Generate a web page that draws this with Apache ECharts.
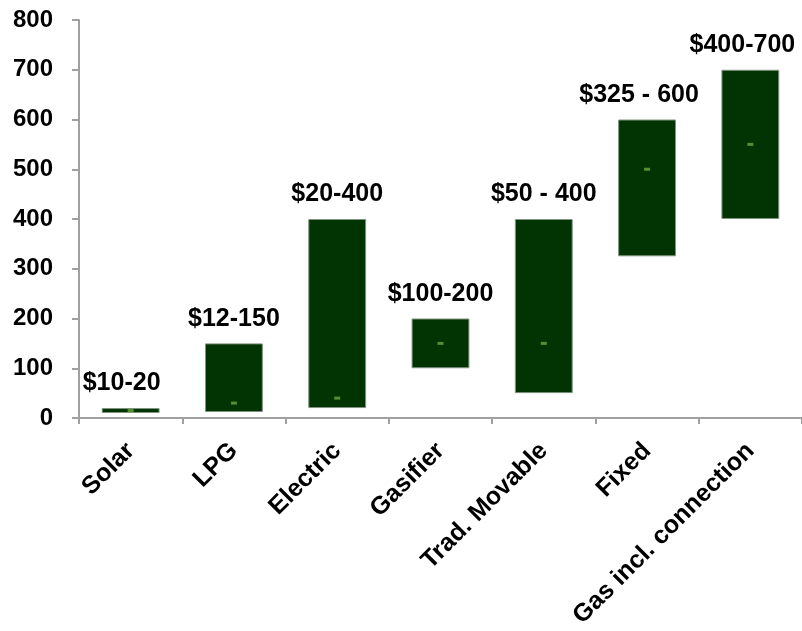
<!DOCTYPE html>
<html>
<head>
<meta charset="utf-8">
<script src="https://cdn.jsdelivr.net/npm/echarts@6/dist/echarts.min.js"></script>
<style>
  html, body { margin: 0; padding: 0; background: #fff; }
  #chart { width: 802px; height: 631px; }
</style>
</head>
<body>
<div id="chart"></div>
<script>
const categories = ['Solar', 'LPG', 'Electric', 'Gasifier', 'Trad. Movable', 'Fixed', 'Gas incl. connection'];
const lows = [10, 12, 20, 100, 50, 325, 400];
const highs = [20, 150, 400, 200, 400, 600, 700];
const mids = [15, 30, 40, 150, 150, 500, 550];
const rangeLabels = ['$10-20', '$12-150', '$20-400', '$100-200', '$50 - 400', '$325 - 600', '$400-700'];

const spans = highs.map((h, i) => h - lows[i]);
// a few labels sit a bit left of their bar in the original
const shifted = { 0: -9, 5: -8, 6: -8 };

const font = 'Liberation Sans, Arial, sans-serif';
const axisGrey = '#a0a0a0';

const chart = echarts.init(document.getElementById('chart'));
chart.setOption({
  animation: false,
  grid: { left: 79, right: 0, top: 20, bottom: 213, containLabel: false },
  xAxis: {
    type: 'category',
    data: categories,
    axisLine: { lineStyle: { color: axisGrey, width: 2 } },
    axisTick: { show: true, length: 6, lineStyle: { color: axisGrey, width: 2 } },
    axisLabel: {
      rotate: 45, interval: 0, margin: 29,
      fontFamily: font, fontWeight: 'bold', fontSize: 25, color: '#000'
    }
  },
  yAxis: {
    type: 'value',
    min: 0, max: 800, interval: 100,
    splitLine: { show: false },
    axisLine: { show: true, lineStyle: { color: axisGrey, width: 2 } },
    axisTick: { show: true, length: 7, lineStyle: { color: axisGrey, width: 2 } },
    axisLabel: {
      margin: 26,
      fontFamily: font, fontWeight: 'bold', fontSize: 24, color: '#000'
    }
  },
  series: [
    {
      type: 'bar', stack: 'r', data: lows, barWidth: '56%',
      itemStyle: { color: 'transparent' }, silent: true
    },
    {
      type: 'bar', stack: 'r',
      data: spans.map((v, i) => ({
        value: v,
        label: { offset: [shifted[i] || 0, 0] }
      })),
      itemStyle: { color: '#023302', borderColor: '#7f957f', borderWidth: 1 },
      label: {
        show: true, position: 'top', distance: 12,
        formatter: p => rangeLabels[p.dataIndex],
        fontFamily: font, fontWeight: 'bold', fontSize: 25, color: '#000'
      }
    },
    {
      type: 'scatter', data: mids, symbol: 'rect', symbolSize: [6, 3],
      itemStyle: { color: '#6aa83a' }, z: 5
    }
  ]
});
</script>
</body>
</html>
